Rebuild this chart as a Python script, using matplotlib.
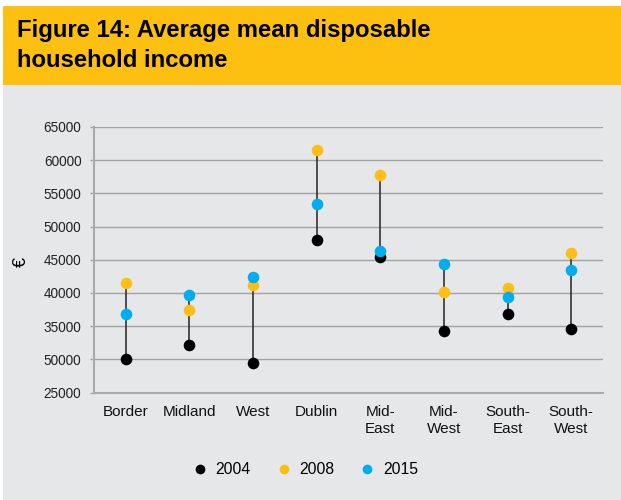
import numpy as np
import matplotlib
matplotlib.use('Agg')
import matplotlib.pyplot as plt
from matplotlib.patches import Rectangle
from matplotlib.lines import Line2D

plt.rcParams['font.family'] = ['Liberation Sans', 'DejaVu Sans']

regions = ['Border', 'Midland', 'West', 'Dublin', 'Mid-\nEast', 'Mid-\nWest', 'South-\nEast', 'South-\nWest']
income_2004 = [30100, 32100, 29400, 48000, 45400, 34300, 36900, 34500]
income_2008 = [41500, 37400, 41200, 61600, 57700, 40100, 40800, 46000]
income_2015 = [36900, 39700, 42400, 53400, 46300, 44400, 39400, 43500]
yticks = [25000, 30000, 35000, 40000, 45000, 50000, 55000, 60000, 65000]
ytick_labels = ['25000', '50000', '35000', '40000', '45000', '50000', '55000', '60000', '65000']

col_2004 = '#000000'
col_2008 = '#FDBF16'
col_2015 = '#00AEEF'
bg_grey = '#E6E7E8'
grid_col = '#A3A3A3'

fig = plt.figure(figsize=(6.21, 5.0), dpi=100, facecolor='white')
W, H = 621, 500
# grey panel and yellow title band (behind the axes)
fig.patches.append(Rectangle((3 / W, 0), 1, 1 - 6 / H, transform=fig.transFigure,
                             facecolor=bg_grey, edgecolor='none', zorder=-10))
fig.patches.append(Rectangle((3 / W, 1 - 85 / H), 1, 79 / H, transform=fig.transFigure,
                             facecolor='#FDC010', edgecolor='none', zorder=-9))
fig.text(17 / W, 1 - 45.5 / H, 'Figure 14: Average mean disposable\nhousehold income',
         fontsize=17.2, fontweight='bold', va='center', ha='left', linespacing=1.38)

ax = fig.add_axes([94 / W, 1 - 392.5 / H, (603 - 94) / W, (392.5 - 127) / H])
ax.set_facecolor('none')

x = np.arange(len(regions))
lo = np.minimum(np.minimum(income_2004, income_2008), income_2015)
hi = np.maximum(np.maximum(income_2004, income_2008), income_2015)
ax.vlines(x, lo, hi, color='#333333', linewidth=1.2, zorder=2)
ax.scatter(x, income_2004, s=70, color=col_2004, zorder=3, linewidths=0)
ax.scatter(x, income_2008, s=70, color=col_2008, zorder=4, linewidths=0)
ax.scatter(x, income_2015, s=70, color=col_2015, zorder=5, linewidths=0)

ax.set_xlim(-0.5, 7.5)
ax.set_ylim(25000, 65000)
ax.set_yticks(yticks)
ax.set_yticklabels(ytick_labels)
ax.set_xticks(x)
ax.set_xticklabels(regions)
ax.yaxis.grid(True, color=grid_col, linewidth=1.0, zorder=1)
ax.set_axisbelow(True)
ax.tick_params(axis='y', length=3, width=1, color=grid_col, pad=6, labelsize=9.8, labelcolor='#222222')
ax.tick_params(axis='x', length=0, pad=9, labelsize=11, labelcolor='#111111')
for lbl in ax.get_xticklabels():
    lbl.set_linespacing(1.25)
    lbl.set_verticalalignment('top')
for side in ['top', 'right']:
    ax.spines[side].set_visible(False)
for side in ['left', 'bottom']:
    ax.spines[side].set_color('#AAAAAA')
    ax.spines[side].set_linewidth(1.5)

fig.text(21 / W, 1 - 262 / H, '€', rotation=90, fontsize=13, ha='center', va='center')

handles = [Line2D([], [], marker='o', linestyle='none', markersize=7, color=c, markeredgewidth=0)
           for c in (col_2004, col_2008, col_2015)]
fig.legend(handles, ['2004', '2008', '2015'], loc='center', bbox_to_anchor=(305 / W, 1 - 470 / H),
           ncol=3, frameon=False, fontsize=11.3, handletextpad=0.5, columnspacing=1.6,
           handlelength=1.0)

fig.savefig('out.png', dpi=100, facecolor='white')
